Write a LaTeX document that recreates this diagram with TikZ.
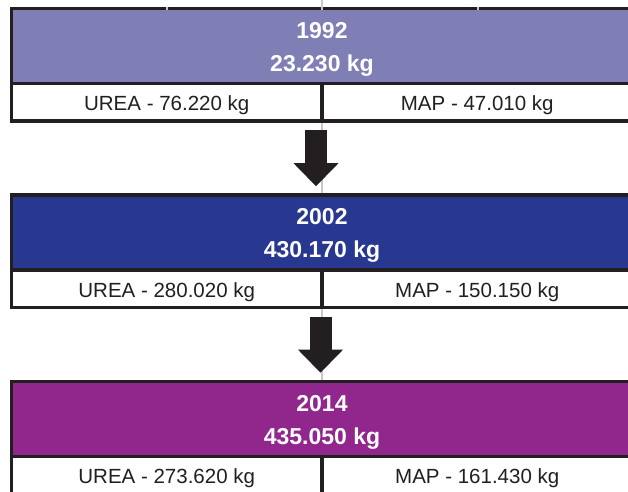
\documentclass[tikz,border=0pt]{standalone}
\usepackage{fontspec}
\setmainfont{Liberation Sans}
\usetikzlibrary{arrows.meta,positioning}
\definecolor{inkblack}{HTML}{231F20}
\definecolor{lavender}{HTML}{7F7FB5}
\definecolor{navyblue}{HTML}{283891}
\definecolor{plum}{HTML}{91278D}
\definecolor{guidegray}{HTML}{C8C8C8}
\begin{document}
\begin{tikzpicture}[x=1pt, y=-1pt,
	yearbox/.style={draw=inkblack, line width=3.5pt, outer sep=0pt, inner sep=0pt, minimum width=621pt, minimum height=74.6pt},
	cell/.style={draw=inkblack, fill=white, line width=3.5pt, outer sep=0pt, inner sep=0pt, minimum width=310.5pt, minimum height=37.7pt, text height=17.6pt, text depth=0pt, text=inkblack, font=\fontsize{20.5}{24}\selectfont},
	total/.style={anchor=base, inner sep=0pt, text=white, font=\fontsize{23}{27}\selectfont\bfseries},
	flow/.style={inkblack, line width=22pt, shorten <=9pt, shorten >=9pt, -{Triangle[width=45pt, length=23pt, line width=0pt]}}]
			\clip (0,0) rectangle (628,491);
			\draw [guidegray, line width=1.5pt] (322,0) -- (322,491);
			\node [yearbox, fill=lavender] (hdrA) at (322,46) {};
			\node [yearbox, fill=navyblue] (hdrB) at (322,232.5) {};
			\node [yearbox, fill=plum] (hdrC) at (322,419) {};
			\node [total] (yrA) at ([yshift=8pt]hdrA.center) {1992};
			\node [total] (kgA) at ([yshift=-25pt]hdrA.center) {23.230 kg};
			\node [total] (yrB) at ([yshift=8pt]hdrB.center) {2002};
			\node [total] (kgB) at ([yshift=-25pt]hdrB.center) {430.170 kg};
			\node [total] (yrC) at ([yshift=8pt]hdrC.center) {2014};
			\node [total] (kgC) at ([yshift=-25pt]hdrC.center) {435.050 kg};
			\node [cell, below right=0pt of hdrA.south west] (ureaA) {UREA - 76.220 kg};
			\node [cell, right=0pt of ureaA] (mapA) {MAP - 47.010 kg};
			\node [cell, below right=0pt of hdrB.south west] (ureaB) {UREA - 280.020 kg};
			\node [cell, right=0pt of ureaB] (mapB) {MAP - 150.150 kg};
			\node [cell, below right=0pt of hdrC.south west] (ureaC) {UREA - 273.620 kg};
			\node [cell, right=0pt of ureaC] (mapC) {MAP - 161.430 kg};
			\draw [flow] ([xshift=-6pt]ureaA.south east) -- ([xshift=-6pt]hdrB.north);
			\draw [flow] ([xshift=-1.5pt]ureaB.south east) -- ([xshift=-1.5pt]hdrC.north);
			\draw [guidegray, line width=1.5pt] (167,6.5) -- (167,9.5) (322,6.5) -- (322,9.5) (478,6.5) -- (478,9.5);
\end{tikzpicture}
\end{document}
